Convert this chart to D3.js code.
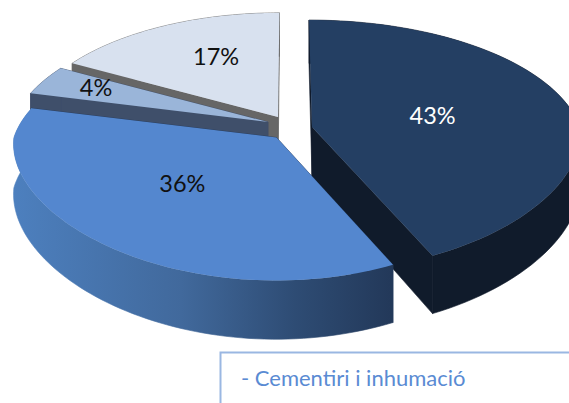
<!DOCTYPE html>
<html><head><meta charset="utf-8">
<script src="https://cdnjs.cloudflare.com/ajax/libs/d3/7.8.5/d3.min.js"></script>
<style>html,body{margin:0;padding:0;background:#fff;overflow:hidden}svg{display:block}</style>
</head><body><div id="c"></div>
<script>
// data
const categories = ["A","B","C","D"];
const values = [43,36,4,17];
const labels = ["43%","36%","4%","17%"];
const noteText = "- Cementiri i inhumació";
// styles
const topColors = ["#243f63","#5487cf","#9ab5d9","#d8e1ef"];
const wallColors = ["#101b2b","url(#blueWall)","#3f4f6a","#666666"];
const edgeColors = ["#101b2b","#23395a","#3f4f6a","#666666"];
const labelColors = ["#ffffff","#111111","#111111","#111111"];
// layout of the exploded slices
const centers = [[312,127],[276.5,137.5],[268,122],[278,117]];
const radiusX = [1.03,1.01,0.98,0.97];
const radiusY = [1,0.99,0.97,0.97];
const labelFrac = [0.47,0.5,0.77,0.61];
const labelShift = [0,5,1.5,4.5];
const W=569,H=403, vx=289, RX=260, RY=123, P=0.15, PXF=0.05, DEPTH=50;

const svg=d3.select("#c").append("svg").attr("width",W).attr("height",H).attr("viewBox",[0,0,W,H]);
svg.append("rect").attr("width",W).attr("height",H).attr("fill","#fff");
const defs=svg.append("defs");
const g=defs.append("linearGradient").attr("id","blueWall").attr("gradientUnits","userSpaceOnUse")
  .attr("x1",10).attr("x2",390).attr("y1",0).attr("y2",0);
[[0,"#4d80bf"],[0.45,"#41699c"],[0.75,"#2e4c74"],[1,"#23395a"]].forEach(s=>g.append("stop").attr("offset",s[0]).attr("stop-color",s[1]));

const arcs=d3.pie().sort(null).value(d=>d).startAngle(0).endAngle(2*Math.PI)(values);
// projection: polar position on the disc → perspective screen point
function proj(i,theta,frac,bottom){
  const u=Math.sin(theta)*frac*radiusX[i], v=-Math.cos(theta)*frac*radiusY[i];
  const f=1/(1-P*v), fx=v>0?1/(1-PXF*v):f, c=centers[i];
  return [vx+(c[0]-vx+RX*u)*fx, c[1]+RY*v*f+(bottom?DEPTH*f:0)];
}
const line=d3.line();
function arcPts(i,a0,a1,bottom){
  return d3.range(0,81).map(k=>proj(i,a0+(a1-a0)*k/80,1,bottom));
}
function draw(i){
  const a=arcs[i];
  // radial walls
  [a.startAngle,a.endAngle].forEach(t=>{
    svg.append("path").attr("d",line([proj(i,t,0),proj(i,t,1),proj(i,t,1,true),proj(i,t,0,true)])+"Z")
      .attr("fill",edgeColors[i]).attr("stroke",edgeColors[i]).attr("stroke-width",0.6);
  });
  // outer wall
  const topA=arcPts(i,a.startAngle,a.endAngle,false), botA=arcPts(i,a.startAngle,a.endAngle,true).reverse();
  svg.append("path").attr("d",line(topA.concat(botA))+"Z").attr("fill",wallColors[i]).attr("stroke",wallColors[i]).attr("stroke-width",0.6);
  // top face
  svg.append("path").attr("d",line([proj(i,0,0)].concat(topA))+"Z").attr("fill",topColors[i]);
}
// back to front
[3,2,0,1].forEach(draw);

// labels
arcs.forEach((a,i)=>{
  const m=(a.startAngle+a.endAngle)/2+labelShift[i]*Math.PI/180;
  const p=proj(i,m,labelFrac[i]);
  svg.append("text").attr("x",p[0]).attr("y",p[1]).attr("text-anchor","middle").attr("dominant-baseline","central")
    .attr("font-family","Lato, 'Open Sans', sans-serif").attr("font-size",23.5).attr("fill",labelColors[i]).text(labels[i]);
});

// annotation box
svg.append("rect").attr("x",220.5).attr("y",352.5).attr("width",400).attr("height",100)
  .attr("fill","#fff").attr("stroke","#9ab7e2").attr("stroke-width",2);
svg.append("text").attr("x",241).attr("y",386).attr("font-family","Lato, 'Open Sans', sans-serif")
  .attr("font-size",22).attr("fill","#5a8bd3").text(noteText);
</script></body></html>
